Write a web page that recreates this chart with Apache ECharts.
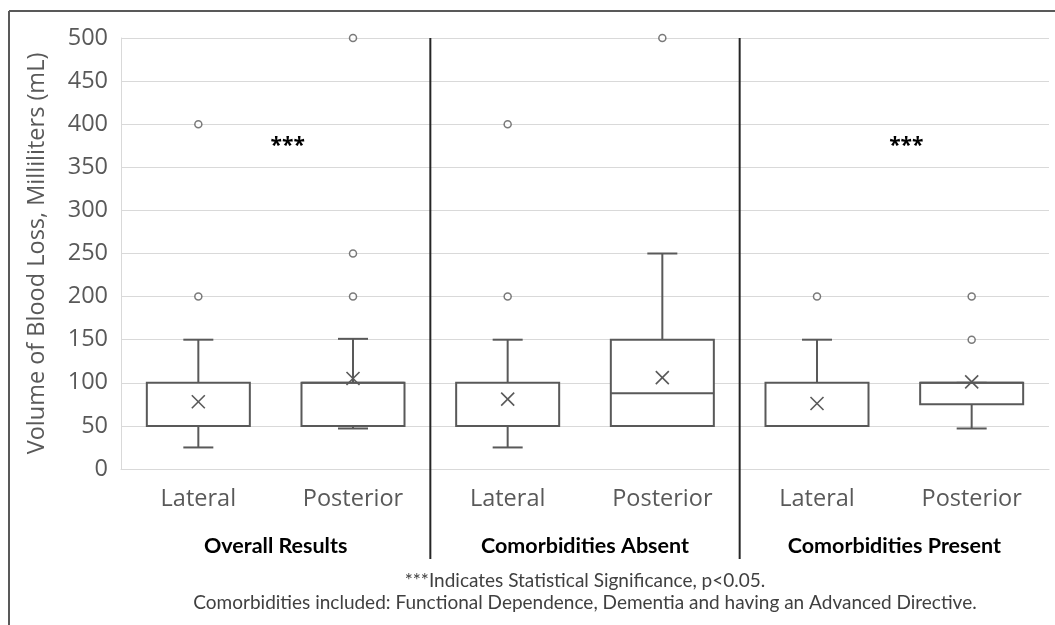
<!DOCTYPE html>
<html>
<head>
<meta charset="utf-8">
<script src="https://cdn.jsdelivr.net/npm/echarts@6/dist/echarts.min.js"></script>
<style>html,body{margin:0;padding:0;background:#fff;}#c{width:1055px;height:625px;}</style>
</head>
<body>
<div id="c"></div>
<script>
var categories = ['Lateral', 'Posterior', 'Lateral', 'Posterior', 'Lateral', 'Posterior'];
var groups = ['Overall Results', 'Comorbidities Absent', 'Comorbidities Present'];
var mins = [25, 47, 25, 50, 50, 47];
var q1s = [50, 50, 50, 50, 50, 75];
var medians = [50, 100, 50, 88, 50, 100];
var q3s = [100, 100, 100, 150, 100, 100];
var maxs = [150, 151, 150, 250, 150, 100];
var means = [78, 105, 81, 106, 76, 101];
var outliers = [[0, 200], [0, 400], [1, 200], [1, 250], [1, 500], [2, 200], [2, 400], [3, 500], [4, 200], [5, 150], [5, 200]];
var yTicks = [0, 50, 100, 150, 200, 250, 300, 350, 400, 450, 500];
var significance = [[0, 375], [4, 375]]; // placed between category i and i+1
var dividers = [2, 4]; // category index whose left edge gets a divider
var footnotes = ['***Indicates Statistical Significance, p<0.05.',
  'Comorbidities included: Functional Dependence, Dementia and having an Advanced Directive.'];

var FONT = '"Open Sans", "Noto Sans", sans-serif';
var NARROW = 'Lato, "Open Sans", sans-serif';
var GRAY = '#595959';

var boxData = categories.map(function (c, i) {
  return [i, mins[i], q1s[i], medians[i], q3s[i], maxs[i], means[i]];
});

var chart = echarts.init(document.getElementById('c'), null, { renderer: 'canvas' });

chart.setOption({
  animation: false,
  backgroundColor: '#fff',
  textStyle: { fontFamily: FONT },
  grid: { left: 121, right: 6, top: 38, bottom: 156, containLabel: false },
  xAxis: [{
    type: 'category',
    data: categories,
    axisLine: { show: true, lineStyle: { color: '#d9d9d9', width: 1 } },
    axisTick: { show: false },
    axisLabel: { fontFamily: FONT, fontSize: 23.5, color: GRAY, margin: 18 },
    splitLine: { show: false }
  }, {
    type: 'category',
    data: groups,
    position: 'bottom',
    offset: 66,
    axisLine: { show: false },
    axisTick: { show: false },
    axisLabel: { fontFamily: NARROW, fontSize: 21.5, fontWeight: 'bold', color: '#000', margin: 0 },
    splitLine: { show: false }
  }],
  yAxis: {
    type: 'value',
    min: 0, max: 500, interval: 50,
    name: 'Volume of Blood Loss, Milliliters (mL)',
    nameLocation: 'middle',
    nameGap: 72,
    nameTextStyle: { fontFamily: FONT, fontSize: 23.5, color: GRAY },
    axisLine: { show: true, lineStyle: { color: '#d9d9d9', width: 1 } },
    axisTick: { show: false },
    axisLabel: {
      fontFamily: FONT, fontSize: 23.5, color: GRAY, margin: 13,
      formatter: function (v) { return yTicks.indexOf(v) >= 0 ? String(v) : ''; }
    },
    splitLine: { show: true, lineStyle: { color: '#d9d9d9', width: 1 } }
  },
  series: [{
    type: 'custom',
    name: 'box',
    xAxisIndex: 0,
    clip: false,
    data: boxData,
    renderItem: function (params, api) {
      var x = api.coord([api.value(0), 0])[0];
      var band = api.size([1, 0])[0];
      var bw = band * 0.666;
      var cw = 30;
      var yMin = api.coord([0, api.value(1)])[1];
      var yQ1 = api.coord([0, api.value(2)])[1];
      var yMed = api.coord([0, api.value(3)])[1];
      var yQ3 = api.coord([0, api.value(4)])[1];
      var yMax = api.coord([0, api.value(5)])[1];
      var yMean = api.coord([0, api.value(6)])[1];
      var st = { stroke: GRAY, lineWidth: 2, fill: null };
      var xs = 6.5;
      var children = [
        { type: 'line', shape: { x1: x, y1: yQ1, x2: x, y2: yMin }, style: st },
        { type: 'line', shape: { x1: x, y1: yQ3, x2: x, y2: yMax }, style: st },
        { type: 'line', shape: { x1: x - cw / 2, y1: yMin, x2: x + cw / 2, y2: yMin }, style: st },
        { type: 'line', shape: { x1: x - cw / 2, y1: yMax, x2: x + cw / 2, y2: yMax }, style: st },
        { type: 'rect', shape: { x: x - bw / 2, y: yQ3, width: bw, height: yQ1 - yQ3 }, style: { stroke: GRAY, lineWidth: 2, fill: '#fff' } },
        { type: 'line', shape: { x1: x - bw / 2, y1: yMed, x2: x + bw / 2, y2: yMed }, style: st },
        { type: 'line', shape: { x1: x - xs, y1: yMean - xs, x2: x + xs, y2: yMean + xs }, style: { stroke: GRAY, lineWidth: 1.6 } },
        { type: 'line', shape: { x1: x - xs, y1: yMean + xs, x2: x + xs, y2: yMean - xs }, style: { stroke: GRAY, lineWidth: 1.6 } }
      ];
      return { type: 'group', children: children };
    },
    z: 3
  }, {
    type: 'scatter',
    name: 'outliers',
    xAxisIndex: 0,
    clip: false,
    data: outliers,
    symbol: 'circle',
    symbolSize: 7,
    itemStyle: { color: '#fff', borderColor: GRAY, borderWidth: 1.5 },
    z: 4
  }, {
    type: 'custom',
    name: 'dividers',
    xAxisIndex: 0,
    clip: false,
    data: dividers.map(function (d) { return [d, 500]; }),
    renderItem: function (params, api) {
      var c = api.coord([api.value(0), api.value(1)]);
      var band = api.size([1, 0])[0];
      var x = c[0] - band / 2;
      var y0 = api.coord([0, 0])[1];
      return { type: 'line', shape: { x1: x, y1: c[1], x2: x, y2: y0 + 90 }, style: { stroke: '#262626', lineWidth: 2 } };
    },
    z: 5
  }, {
    type: 'custom',
    name: 'significance',
    xAxisIndex: 0,
    clip: false,
    data: significance,
    renderItem: function (params, api) {
      var c = api.coord([api.value(0), api.value(1)]);
      var band = api.size([1, 0])[0];
      return {
        type: 'text',
        style: { x: c[0] + band / 2 + 12, y: c[1], text: '***', fill: '#000', font: 'bold 21px ' + FONT, align: 'center', verticalAlign: 'middle' }
      };
    },
    z: 5
  }],
  graphic: [
    { type: 'line', shape: { x1: 9, y1: 11, x2: 1055, y2: 11 }, style: { stroke: GRAY, lineWidth: 2 } },
    { type: 'line', shape: { x1: 9, y1: 11, x2: 9, y2: 625 }, style: { stroke: GRAY, lineWidth: 2 } },
    { type: 'text', x: 585, y: 581, style: { text: footnotes[0], font: '19px ' + NARROW, fill: '#404040', align: 'center', verticalAlign: 'middle' } },
    { type: 'text', x: 585, y: 603, style: { text: footnotes[1], font: '19px ' + NARROW, fill: '#404040', align: 'center', verticalAlign: 'middle' } }
  ]
});
</script>
</body>
</html>
